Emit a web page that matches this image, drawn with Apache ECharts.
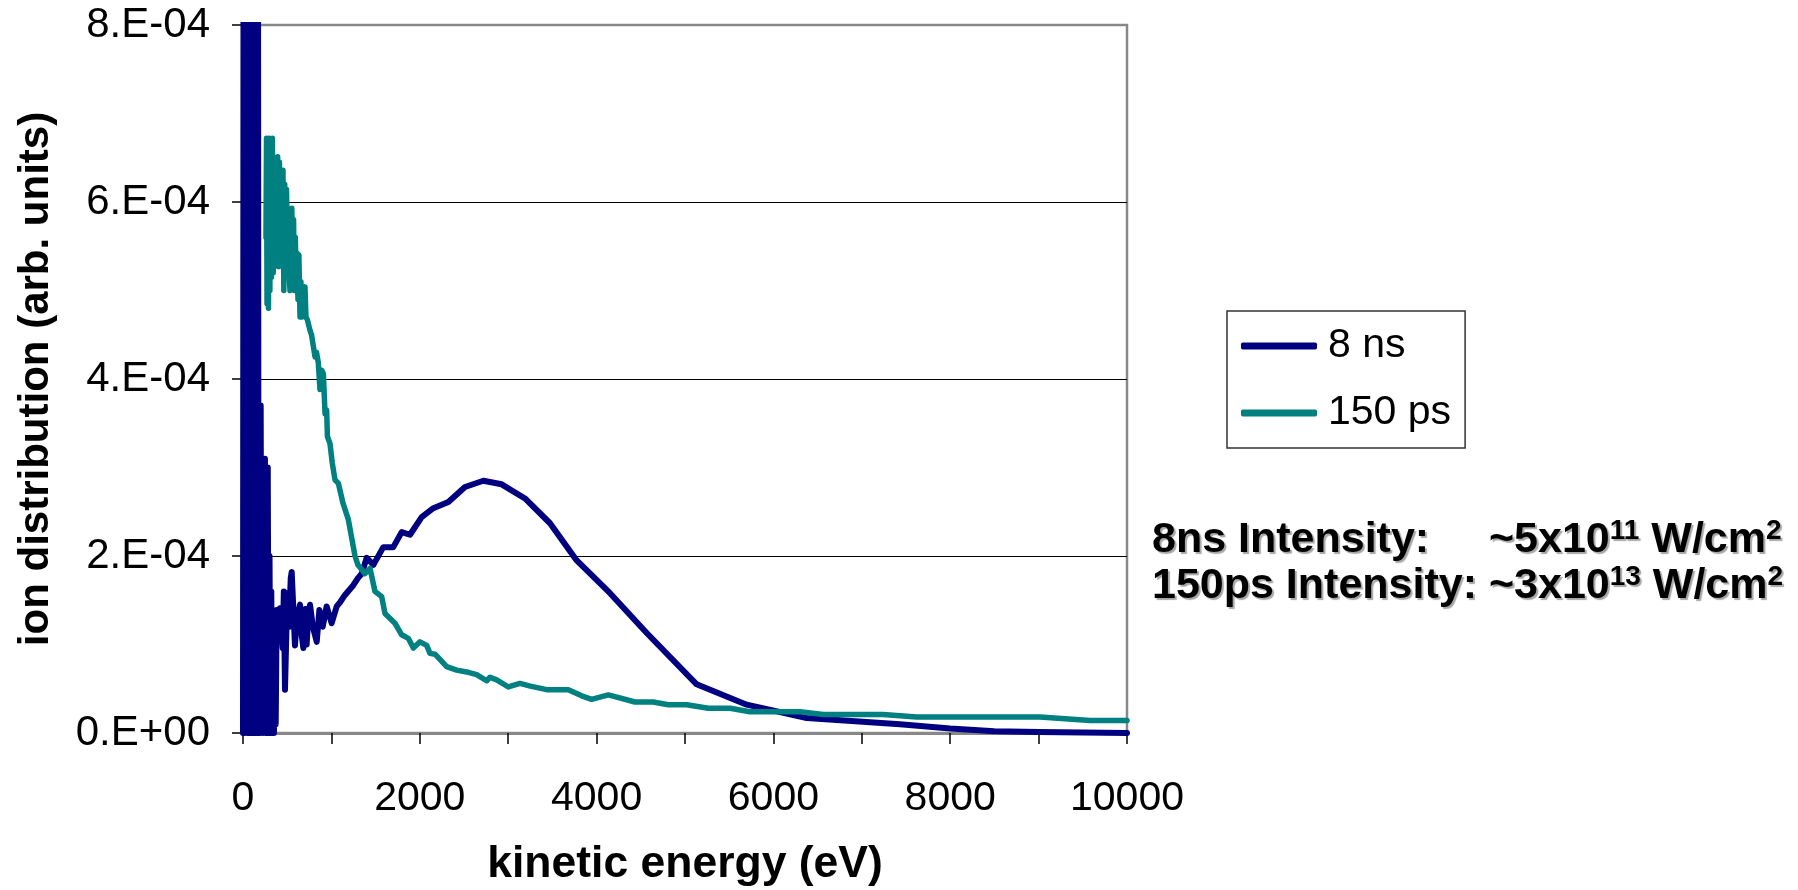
<!DOCTYPE html>
<html>
<head>
<meta charset="utf-8">
<script src="https://cdn.jsdelivr.net/npm/echarts@6/dist/echarts.min.js"></script>
<style>
html,body{margin:0;padding:0;background:#fff;}
#chart{width:1798px;height:890px;}
</style>
</head>
<body>
<div id="chart"></div>
<script>
// ---- data (y values in units of 1E-4) ----
const seriesNames = ['8 ns', '150 ps'];
const xTickLabels = ['0', '2000', '4000', '6000', '8000', '10000'];
const yTickLabels = ['0.E+00', '2.E-04', '4.E-04', '6.E-04', '8.E-04'];

const ns8Energy = [0,8,16,24,32,40,48,56,64,72,80,88,96,104,112,120,128,136,144,152,160,168,176,
  184,192,200,208,216,224,232,240,248,256,264,272,280,290,300,310,320,330,340,350,360,370,
  381,400,419,435,449,462,475,501,520,540,551,570,588,610,645,665,683,705,720,740,758,790,834,864,901,946,1003,1060,1100,1154,1248,1300,1343,1399,
  1475,1587,1700,1795,1889,2021,2153,2323,2511,2719,2926,3190,3473,3775,4152,4567,5132,5698,6377,7432,8000,8500,9000,10000];
const ns8Value = [0,12,0,12,0.5,12,0,12,0,12,0,12,0,12,0,12,0,12,0,12,0,12,0,
  3.7,0,3.7,0.2,3.1,0,3.05,0.1,3.1,0,3.0,0,3.0,0,2.0,0,1.6,0,1.3,0,1.1,0.1,
  1.39,1.2,1.41,1.2,0.96,1.6,0.49,1.58,1.2,1.75,1.82,1.39,0.99,1.3,1.45,1.1,0.96,1.4,1.0,1.35,1.45,1.2,1.03,1.39,1.20,1.43,1.24,1.43,1.48,1.56,1.67,1.75,1.80,1.98,
  1.90,2.10,2.10,2.27,2.24,2.44,2.54,2.61,2.78,2.85,2.81,2.65,2.37,1.95,1.58,1.13,0.55,0.32,0.17,0.10,0.05,0.02,0.01,0.0];

const ps150Energy = [260,266,272,280,288,296,304,312,322,332,342,352,362,372,382,392,402,412,422,432,442,452,462,472,482,492,502,512,522,532,542,552,562,572,582,592,602,612,622,632,645,655,667,680,701,712,728,745,758,775,796,815,832,852,871,890,909,928,946,955,984,1010,1041,1079,1130,1192,1230,1267,1300,1340,1380,1437,1493,1569,1606,1719,1795,1870,1927,2002,2078,2115,2172,2304,2417,2530,2643,2756,2794,2870,3002,3133,3250,3435,3680,3831,3944,4133,4434,4641,4811,5019,5264,5509,5735,6300,6565,7243,7620,9016,9581,10000];
const ps150Value = [5.6,6.72,4.85,6.7,4.8,6.72,5.0,6.6,5.15,6.72,5.2,6.4,5.4,6.2,5.3,6.51,5.27,6.45,5.5,6.3,5.3,6.36,5.0,6.2,5.2,6.14,5.6,5.9,5.2,5.0,5.7,5.93,5.3,5.8,5.0,5.6,5.0,5.42,4.9,5.4,4.7,5.1,4.7,5.0,5.04,4.7,4.67,4.6,4.55,4.5,4.52,4.25,4.3,4.18,3.88,4.1,4.06,3.61,3.65,3.35,3.27,3.05,2.86,2.82,2.6,2.41,2.2,2.0,1.9,1.85,1.80,1.86,1.60,1.54,1.35,1.24,1.11,1.07,0.96,1.03,0.99,0.90,0.89,0.75,0.71,0.69,0.66,0.59,0.63,0.60,0.52,0.56,0.53,0.49,0.49,0.42,0.38,0.43,0.35,0.35,0.32,0.32,0.28,0.28,0.24,0.24,0.21,0.21,0.18,0.18,0.14,0.14];

const colors = ['#000080', '#008080'];
const FONT = '"Liberation Sans", Arial, sans-serif';

function pairs(xs, ys) { return xs.map((x, i) => [x, ys[i]]); }

const shadow = { textShadowColor: 'rgba(0,0,0,0.35)', textShadowOffsetX: 2, textShadowOffsetY: 2, textShadowBlur: 1 };
const bStyle = Object.assign({ fontSize: 43, fontWeight: 'bold', fontFamily: FONT, color: '#000', lineHeight: 43 }, shadow);
const sStyle = Object.assign({ fontSize: 28, fontWeight: 'bold', fontFamily: FONT, color: '#000', lineHeight: 28, padding: [0, 0, 19, 0] }, shadow);

const chart = echarts.init(document.getElementById('chart'), null, { renderer: 'canvas' });
chart.setOption({
  backgroundColor: '#fff',
  animation: false,
  grid: { left: 243, right: 671, top: 25, bottom: 157, containLabel: false, outerBoundsMode: 'none',
          show: true, borderColor: '#888', borderWidth: 2.5, backgroundColor: 'transparent' },
  legend: {
    orient: 'vertical', left: 1227, top: 311, padding: [10, 14, 10, 14],
    itemWidth: 76, itemHeight: 7, itemGap: 17, icon: 'roundRect',
    borderColor: '#333', borderWidth: 1.5,
    textStyle: { fontSize: 41, fontFamily: FONT, color: '#000', lineHeight: 50, padding: [0, 0, 0, 6] },
    data: seriesNames
  },
  xAxis: {
    type: 'value', min: 0, max: 10000, interval: 1000,
    name: 'kinetic energy (eV)', nameLocation: 'middle', nameGap: 109,
    nameTextStyle: { fontSize: 44.5, fontWeight: 'bold', fontFamily: FONT, color: '#000' },
    axisLine: { show: true, lineStyle: { color: '#888', width: 3 } },
    axisTick: { show: true, length: 11, lineStyle: { color: '#000', width: 1.5 } },
    axisLabel: { margin: 45, fontSize: 41, fontFamily: FONT, color: '#000',
      formatter: v => (v % 2000 === 0 ? xTickLabels[v / 2000] : '') },
    splitLine: { show: false }
  },
  yAxis: {
    type: 'value', min: 0, max: 8, interval: 2,
    name: 'ion distribution (arb. units)', nameLocation: 'middle', nameGap: 186,
    nameTextStyle: { fontSize: 42, fontWeight: 'bold', fontFamily: FONT, color: '#000' },
    axisLine: { show: true, lineStyle: { color: '#888', width: 2.5 } },
    axisTick: { show: true, length: 11, lineStyle: { color: '#000', width: 1.5 } },
    axisLabel: { margin: 33, fontSize: 42, fontFamily: FONT, color: '#000',
      formatter: v => yTickLabels[Math.round(v / 2)] },
    splitLine: { show: true, showMinLine: false, showMaxLine: false, lineStyle: { color: '#000', width: 1.2 } }
  },
  series: [
    { name: seriesNames[0], type: 'line', data: pairs(ns8Energy, ns8Value), showSymbol: false, symbol: 'none',
      clip: true, color: colors[0], lineStyle: { color: colors[0], width: 6, join: 'round', cap: 'round' } },
    { name: seriesNames[1], type: 'line', data: pairs(ps150Energy, ps150Value), showSymbol: false, symbol: 'none',
      clip: true, color: colors[1], lineStyle: { color: colors[1], width: 5.5, join: 'round', cap: 'round' } }
  ],
  graphic: [
    { type: 'text', x: 1152, y: 519, style: Object.assign({ text: '8ns Intensity:', font: 'bold 43px ' + FONT, fill: '#000' }, shadow) },
    { type: 'text', x: 1489, y: 519, style: { text: '{b|~5x10}{s|11}{b| W/cm}{s|2}', rich: { b: bStyle, s: sStyle } } },
    { type: 'text', x: 1152, y: 565, style: { text: '{b|150ps Intensity: ~3x10}{s|13}{b| W/cm}{s|2}', rich: { b: bStyle, s: sStyle } } }
  ]
});
</script>
</body>
</html>
